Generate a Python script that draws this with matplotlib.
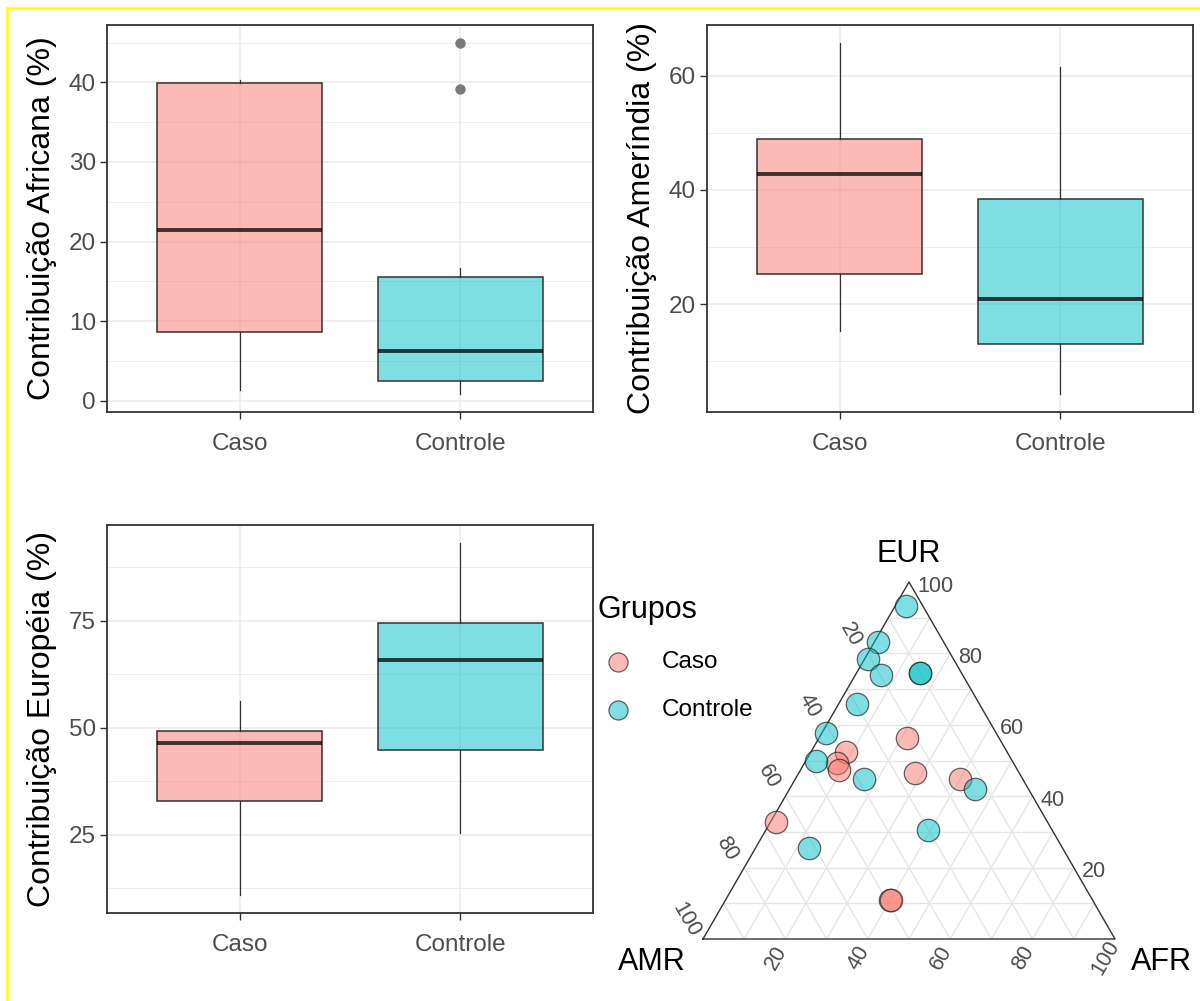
import numpy as np
import matplotlib
matplotlib.use("Agg")
import matplotlib.pyplot as plt
from matplotlib.colors import to_rgba
from matplotlib.lines import Line2D
from matplotlib.ticker import MultipleLocator

W, H = 1200, 1001
plt.rcParams['font.family'] = ['Liberation Sans', 'DejaVu Sans']

groups = ['Caso', 'Controle']
colors = ['#F8766D', '#00BFC4']

# ancestry proportions (%) for each individual
caso_afr = [21.5, 8.6, 8.0, 9.4, 28.2, 39.9, 1.4, 40.0, 40.3]
caso_amr = [22.3, 39.0, 42.8, 43.3, 25.3, 15.3, 65.8, 49.2, 48.9]
caso_eur = [56.2, 52.4, 49.2, 47.3, 46.5, 44.8, 32.8, 10.8, 10.8]

ctrl_afr = [2.6, 0.8, 0.8, 6.2, 15.5, 15.5, 4.4, 0.9, 2.5, 16.7, 45.0, 39.2, 13.0]
ctrl_amr = [4.2, 15.9, 20.9, 19.8, 10.0, 10.0, 29.8, 41.4, 47.5, 38.5, 13.0, 30.2, 61.6]
ctrl_eur = [93.2, 83.3, 78.3, 74.0, 74.5, 74.5, 65.8, 57.7, 50.0, 44.8, 42.0, 30.6, 25.4]

ylabels = ['Contribuição Africana (%)', 'Contribuição Ameríndia (%)', 'Contribuição Européia (%)']
major_steps = [10, 20, 25]
tern_ticks = [20, 40, 60, 80, 100]


def px_box(l, t, r, b):
    return [l / W, 1 - b / H, (r - l) / W, (b - t) / H]


fig = plt.figure(figsize=(W / 100, H / 100), dpi=100)

panel_boxes = [(107, 25, 593, 412), (707, 25, 1193, 412), (107, 525, 593, 913)]
panel_data = [[caso_afr, ctrl_afr], [caso_amr, ctrl_amr], [caso_eur, ctrl_eur]]

for box, data, ylab, step in zip(panel_boxes, panel_data, ylabels, major_steps):
    ax = fig.add_axes(px_box(*box))
    bp = ax.boxplot(data, positions=[1, 2], widths=0.75, patch_artist=True,
                    showcaps=False, whis=1.5,
                    medianprops=dict(color='black', alpha=0.75, lw=2.8),
                    whiskerprops=dict(color='#333333', lw=0.9),
                    boxprops=dict(edgecolor='#333333', lw=1.1),
                    flierprops=dict(marker='o', markerfacecolor='#7a7a7a',
                                    markeredgecolor='none', markersize=7.5))
    for patch, c in zip(bp['boxes'], colors):
        patch.set_facecolor(to_rgba(c, 0.5))

    allv = np.concatenate(data)
    lo, hi = allv.min(), allv.max()
    pad = 0.05 * (hi - lo)
    ax.set_ylim(lo - pad, hi + pad)
    ax.set_xlim(0.4, 2.6)
    ax.set_xticks([1, 2])
    ax.set_xticklabels(groups)
    ax.yaxis.set_major_locator(MultipleLocator(step))
    ax.yaxis.set_minor_locator(MultipleLocator(step / 2))
    ax.tick_params(which='major', length=5, width=1, color='#333333',
                   labelsize=17.5, labelcolor='#4D4D4D', pad=3)
    ax.tick_params(axis='x', pad=10)
    ax.tick_params(which='minor', length=0)
    ax.grid(which='major', color='#EBEBEB', lw=1.1)
    ax.grid(which='minor', axis='y', color='#EBEBEB', lw=0.6)
    ax.set_axisbelow(True)
    for s in ax.spines.values():
        s.set_color('#333333')
        s.set_linewidth(1.3)
    ax.set_ylabel(ylab, fontsize=23, color='black')
    ax.yaxis.set_label_coords(-0.103, 0.5)

# ternary plot
S3 = np.sqrt(3) / 2
tax = fig.add_axes(px_box(703, 582, 1115, 939))
tax.set_xlim(0, 1)
tax.set_ylim(0, S3)
tax.axis('off')


def tern_xy(afr, eur):
    afr = np.asarray(afr) / 100
    eur = np.asarray(eur) / 100
    return afr + eur / 2, eur * S3


grid_c = '#E6E6E6'
for k in range(10, 100, 10):
    f = k / 100
    # constant EUR
    tax.plot([f / 2, 1 - f / 2], [f * S3, f * S3], color=grid_c, lw=1, zorder=1)
    # constant AFR
    tax.plot([f, f + (1 - f) / 2], [0, (1 - f) * S3], color=grid_c, lw=1, zorder=1)
    # constant AMR
    tax.plot([(1 - f) / 2, 1 - f], [(1 - f) * S3, 0], color=grid_c, lw=1, zorder=1)

tax.plot([0, 1, 0.5, 0], [0, 0, S3, 0], color='#333333', lw=1, zorder=2,
         clip_on=False)

handles = []
for afr, eur, c in [(caso_afr, caso_eur, colors[0]), (ctrl_afr, ctrl_eur, colors[1])]:
    x, y = tern_xy(afr, eur)
    h = tax.scatter(x, y, s=260, facecolor=to_rgba(c, 0.5),
                    edgecolor=(0.15, 0.15, 0.15, 0.7), lw=0.9, zorder=3,
                    clip_on=False)
    handles.append(h)

u = 1 / 412  # one pixel in data units
for t in tern_ticks:
    f = t / 100
    # EUR labels on the right edge
    tax.text(1 - f / 2 + 8 * u, f * S3 - 4 * u, str(t), ha='left', va='center',
             fontsize=15.5, color='#4D4D4D')
    # AMR labels on the left edge
    tax.text((1 - f) / 2 - 17 * u, (1 - f) * S3 + 19 * u, str(t), ha='center',
             va='center', rotation=-60, fontsize=15.5, color='#4D4D4D')
    # AFR labels on the bottom edge
    tax.text(f - 9 * u, -19 * u, str(t), ha='center', va='center', rotation=60,
             fontsize=15.5, color='#4D4D4D')

tax.text(0.5, S3 + 28 * u, 'EUR', ha='center', va='center', fontsize=22)
tax.text(-51 * u, -23 * u, 'AMR', ha='center', va='center', fontsize=22)
tax.text(1 + 46 * u, -23 * u, 'AFR', ha='center', va='center', fontsize=22)

leg = tax.legend(handles, groups, title='Grupos', loc='upper left',
                 bbox_to_anchor=(563 / W, 1 - 561 / H),
                 bbox_transform=fig.transFigure, frameon=False, fontsize=17.5,
                 title_fontsize=22, alignment='left', borderpad=1.4,
                 borderaxespad=0, handlelength=1.7, handletextpad=0.95,
                 labelspacing=1.07, scatterpoints=1, markerscale=0.85)

# yellow selection frame of the screenshot
fig.add_artist(Line2D([7 / W, 7 / W], [0, 1 - 8 / H], color='#FFFF00', lw=1.8,
                      transform=fig.transFigure))
fig.add_artist(Line2D([7 / W, 1], [1 - 8 / H, 1 - 8 / H], color='#FFFF00', lw=1.8,
                      transform=fig.transFigure))

fig.savefig('out.png', dpi=100)
